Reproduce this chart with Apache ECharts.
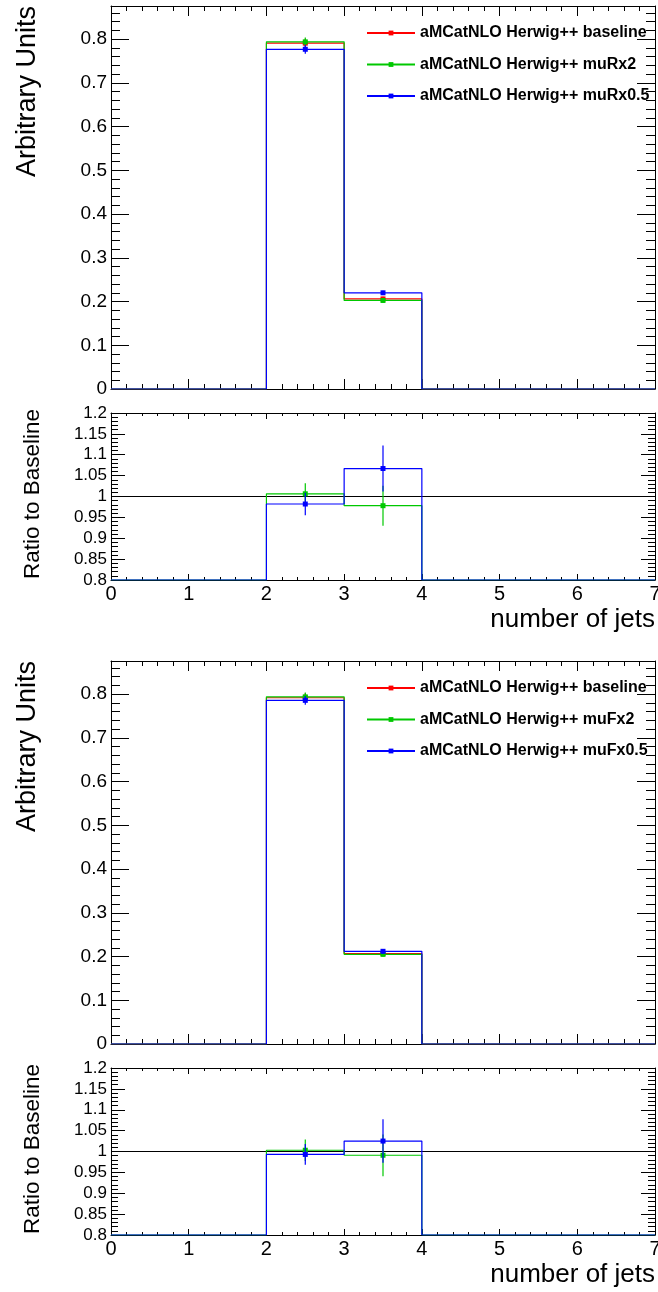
<!DOCTYPE html>
<html>
<head>
<meta charset="utf-8">
<script src="https://cdn.jsdelivr.net/npm/echarts@6/dist/echarts.min.js"></script>
<style>
  html, body { margin: 0; padding: 0; background: #ffffff; }
  #chart { width: 658px; height: 1292px; }
</style>
</head>
<body>
<div id="chart"></div>
<script>
// Jet multiplicity binning
const binEdges = [0, 1, 2, 3, 4, 5, 6, 7];
const xTickLabels = ['0', '1', '2', '3', '4', '5', '6', '7'];
const mainYTickLabels = ['0', '0.1', '0.2', '0.3', '0.4', '0.5', '0.6', '0.7', '0.8'];
const ratioYTickLabels = ['0.8', '0.85', '0.9', '0.95', '1', '1.05', '1.1', '1.15', '1.2'];

// Renormalisation scale variations (normalised distributions)
const muRBaseline    = [0, 0, 0.791, 0.206, 0, 0, 0];
const muRBaselineErr = [0, 0, 0.010, 0.005, 0, 0, 0];
const muRUp          = [0, 0, 0.794, 0.2025, 0, 0, 0];
const muRUpErr       = [0, 0, 0.010, 0.005, 0, 0, 0];
const muRDown        = [0, 0, 0.777, 0.220, 0, 0, 0];
const muRDownErr     = [0, 0, 0.010, 0.005, 0, 0, 0];
// Ratios to the baseline
const muRUpRatio      = [0, 0, 1.0065, 0.978, 0, 0, 0];
const muRUpRatioErr   = [0, 0, 0.025, 0.048, 0, 0, 0];
const muRDownRatio    = [0, 0, 0.982, 1.067, 0, 0, 0];
const muRDownRatioErr = [0, 0, 0.027, 0.055, 0, 0, 0];

// Factorisation scale variations (normalised distributions)
const muFBaseline    = [0, 0, 0.792, 0.207, 0, 0, 0];
const muFBaselineErr = [0, 0, 0.010, 0.005, 0, 0, 0];
const muFUp          = [0, 0, 0.794, 0.205, 0, 0, 0];
const muFUpErr       = [0, 0, 0.010, 0.005, 0, 0, 0];
const muFDown        = [0, 0, 0.786, 0.212, 0, 0, 0];
const muFDownErr     = [0, 0, 0.010, 0.005, 0, 0, 0];
// Ratios to the baseline
const muFUpRatio      = [0, 0, 1.003, 0.991, 0, 0, 0];
const muFUpRatioErr   = [0, 0, 0.026, 0.050, 0, 0, 0];
const muFDownRatio    = [0, 0, 0.993, 1.025, 0, 0, 0];
const muFDownRatioErr = [0, 0, 0.025, 0.052, 0, 0, 0];

const ratioReference = 1;

const NAME_BASE = 'aMCatNLO Herwig++ baseline';
const NAMES_R = [NAME_BASE, 'aMCatNLO Herwig++ muRx2', 'aMCatNLO Herwig++ muRx0.5'];
const NAMES_F = [NAME_BASE, 'aMCatNLO Herwig++ muFx2', 'aMCatNLO Herwig++ muFx0.5'];

const RED = '#ff0000', GREEN = '#00c800', BLUE = '#0000ff';
const FONT = "'Liberation Sans', Arial, Helvetica, sans-serif";

const MAIN_MAX = 0.876;
const RATIO_MIN = 0.8, RATIO_MAX = 1.2;

const binCenters = binEdges.slice(0, -1).map((e, i) => (e + binEdges[i + 1]) / 2);

// Outline of a histogram: one horizontal segment per bin, joined by vertical steps
function stepPoints(vals, floor) {
  const pts = [];
  vals.forEach((v, i) => {
    const y = Math.max(v, floor);
    pts.push([binEdges[i], y], [binEdges[i + 1], y]);
  });
  return pts;
}

function histSeries(name, axisIdx, vals, color, floor, z) {
  return {
    type: 'line', name, xAxisIndex: axisIdx, yAxisIndex: axisIdx,
    data: stepPoints(vals, floor),
    symbol: 'rect', showSymbol: false, clip: true, z,
    lineStyle: { color, width: 1.2 },
    itemStyle: { color },
    emphasis: { disabled: true }
  };
}

// Square markers with vertical error bars at the bin centres
function pointSeries(name, axisIdx, vals, errs, color, z) {
  const data = [];
  vals.forEach((v, i) => { if (v > 0) data.push([binCenters[i], v, errs[i]]); });
  return {
    type: 'custom', name, xAxisIndex: axisIdx, yAxisIndex: axisIdx, z,
    data, encode: { x: 0, y: 1 }, clip: true,
    renderItem(params, api) {
      const x = api.value(0), y = api.value(1), e = api.value(2);
      const p = api.coord([x, y]);
      const hi = api.coord([x, y + e]);
      const lo = api.coord([x, y - e]);
      return {
        type: 'group',
        children: [
          { type: 'line', shape: { x1: p[0], y1: hi[1], x2: p[0], y2: lo[1] },
            style: { stroke: color, lineWidth: 1.2 } },
          { type: 'rect', shape: { x: p[0] - 2.5, y: p[1] - 2.5, width: 5, height: 5 },
            style: { fill: color } }
        ]
      };
    }
  };
}

function refLine(axisIdx) {
  return {
    type: 'line', name: 'reference', xAxisIndex: axisIdx, yAxisIndex: axisIdx,
    data: [[binEdges[0], ratioReference], [binEdges[binEdges.length - 1], ratioReference]],
    showSymbol: false, z: 3,
    lineStyle: { color: '#000000', width: 1 }, emphasis: { disabled: true }
  };
}

const gridBase = { left: 111, width: 544, outerBoundsMode: 'none', containLabel: false };
const grids = [
  Object.assign({ top: 6, height: 383 }, gridBase),
  Object.assign({ top: 413, height: 167 }, gridBase),
  Object.assign({ top: 661, height: 383 }, gridBase),
  Object.assign({ top: 1068, height: 167 }, gridBase)
];

const xAxes = [], yAxes = [];
const black = { color: '#000000', width: 1 };

function addFrame(gridIndex, isRatio) {
  const xTick = isRatio ? 6 : 10;
  const yTick = isRatio ? 14 : 18;
  const xBase = {
    type: 'value', gridIndex, min: 0, max: 7, interval: 1,
    axisLine: { show: true, onZero: false, lineStyle: black },
    axisTick: { show: true, inside: true, length: xTick, lineStyle: black },
    minorTick: { show: true, splitNumber: 5, length: xTick / 2, lineStyle: black },
    splitLine: { show: false }, minorSplitLine: { show: false }
  };
  xAxes.push(Object.assign({}, xBase, {
    position: 'bottom',
    axisLabel: {
      show: isRatio, color: '#000', fontSize: 20, fontFamily: FONT, margin: 4,
      formatter: v => xTickLabels[Math.round(v)] || ''
    }
  }));
  xAxes.push(Object.assign({}, xBase, { position: 'top', axisLabel: { show: false } }));

  const yBase = isRatio
    ? { min: RATIO_MIN, max: RATIO_MAX, interval: 0.05 }
    : { min: 0, max: MAIN_MAX, interval: 0.1 };
  const yCommon = Object.assign({
    type: 'value', gridIndex,
    axisLine: { show: true, onZero: false, lineStyle: black },
    axisTick: { show: true, inside: true, length: yTick, lineStyle: black },
    minorTick: { show: true, splitNumber: 5, length: yTick / 2, lineStyle: black },
    splitLine: { show: false }, minorSplitLine: { show: false }
  }, yBase);
  yAxes.push(Object.assign({}, yCommon, {
    position: 'left',
    axisLabel: {
      show: true, color: '#000', fontSize: isRatio ? 17 : 19, fontFamily: FONT, margin: 4,
      showMaxLabel: isRatio, showMinLabel: true,
      formatter: isRatio
        ? v => ratioYTickLabels[Math.round((v - RATIO_MIN) / 0.05)] || ''
        : v => (Math.abs(v * 10 - Math.round(v * 10)) < 1e-6 ? (mainYTickLabels[Math.round(v * 10)] || '') : '')
    }
  }));
  yAxes.push(Object.assign({}, yCommon, { position: 'right', axisLabel: { show: false } }));
}

addFrame(0, false);
addFrame(1, true);
addFrame(2, false);
addFrame(3, true);

// Axis indices: grid g uses xAxis 2g (bottom) and yAxis 2g (left)
const series = [
  // muR figure, main panel
  histSeries(NAMES_R[0], 0, muRBaseline, RED, 0, 2),
  pointSeries('muR baseline points', 0, muRBaseline, muRBaselineErr, RED, 3),
  histSeries(NAMES_R[1], 0, muRUp, GREEN, 0, 4),
  pointSeries('muRx2 points', 0, muRUp, muRUpErr, GREEN, 5),
  histSeries(NAMES_R[2], 0, muRDown, BLUE, 0, 6),
  pointSeries('muRx0.5 points', 0, muRDown, muRDownErr, BLUE, 7),
  // muR figure, ratio panel
  refLine(2),
  histSeries('muRx2 ratio', 2, muRUpRatio, GREEN, RATIO_MIN, 4),
  pointSeries('muRx2 ratio points', 2, muRUpRatio, muRUpRatioErr, GREEN, 5),
  histSeries('muRx0.5 ratio', 2, muRDownRatio, BLUE, RATIO_MIN, 6),
  pointSeries('muRx0.5 ratio points', 2, muRDownRatio, muRDownRatioErr, BLUE, 7),
  // muF figure, main panel
  histSeries(NAMES_F[0], 4, muFBaseline, RED, 0, 2),
  pointSeries('muF baseline points', 4, muFBaseline, muFBaselineErr, RED, 3),
  histSeries(NAMES_F[1], 4, muFUp, GREEN, 0, 4),
  pointSeries('muFx2 points', 4, muFUp, muFUpErr, GREEN, 5),
  histSeries(NAMES_F[2], 4, muFDown, BLUE, 0, 6),
  pointSeries('muFx0.5 points', 4, muFDown, muFDownErr, BLUE, 7),
  // muF figure, ratio panel
  refLine(6),
  histSeries('muFx2 ratio', 6, muFUpRatio, GREEN, RATIO_MIN, 4),
  pointSeries('muFx2 ratio points', 6, muFUpRatio, muFUpRatioErr, GREEN, 5),
  histSeries('muFx0.5 ratio', 6, muFDownRatio, BLUE, RATIO_MIN, 6),
  pointSeries('muFx0.5 ratio points', 6, muFDownRatio, muFDownRatioErr, BLUE, 7)
];

function legendAt(top, names) {
  return {
    orient: 'vertical', left: 366, top, data: names, padding: 0,
    itemWidth: 48, itemHeight: 6, itemGap: 15.5,
    selectedMode: false,
    textStyle: { color: '#000', fontSize: 16, fontWeight: 'bold', fontFamily: FONT }
  };
}

function vTitle(text, x, y, size, align) {
  return {
    type: 'text', x, y, rotation: Math.PI / 2,
    style: { text, font: size + 'px ' + FONT, fill: '#000', align, verticalAlign: 'middle' }
  };
}

function hTitle(text, x, y, size) {
  return {
    type: 'text', x, y,
    style: { text, font: size + 'px ' + FONT, fill: '#000', align: 'right', verticalAlign: 'middle' }
  };
}

const option = {
  animation: false,
  backgroundColor: '#ffffff',
  grid: grids,
  xAxis: xAxes,
  yAxis: yAxes,
  legend: [legendAt(25, NAMES_R), legendAt(680, NAMES_F)],
  series,
  graphic: [
    vTitle('Arbitrary Units', 28, 6, 27, 'right'),
    vTitle('Ratio to Baseline', 33, 494, 22.5, 'center'),
    hTitle('number of jets', 655, 620, 26),
    vTitle('Arbitrary Units', 28, 661, 27, 'right'),
    vTitle('Ratio to Baseline', 33, 1149, 22.5, 'center'),
    hTitle('number of jets', 655, 1275, 26)
  ]
};

const chart = echarts.init(document.getElementById('chart'), null, { renderer: 'canvas' });
chart.setOption(option);
</script>
</body>
</html>
